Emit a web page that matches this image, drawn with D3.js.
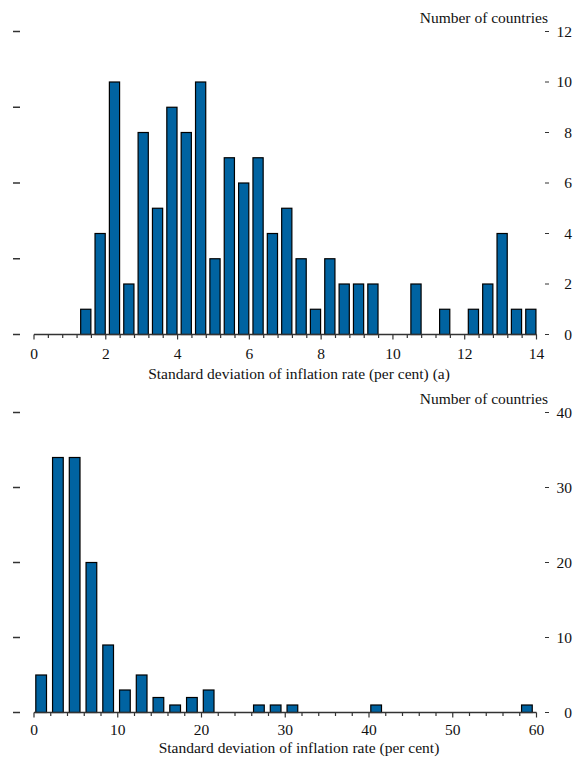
<!DOCTYPE html>
<html>
<head>
<meta charset="utf-8">
<script src="https://cdn.jsdelivr.net/npm/d3@7"></script>
<style>
  html, body { margin: 0; padding: 0; background: #fff; }
  svg { display: block; font-family: "Liberation Serif", "Times New Roman", serif; }
</style>
</head>
<body>
<svg id="chart" width="577" height="757"></svg>
<script>
// Panel (a): countries by standard deviation of inflation, 0.4-point bins from 0 to 14
const binsA = [0, 0.4, 0.8, 1.2, 1.6, 2.0, 2.4, 2.8, 3.2, 3.6, 4.0, 4.4, 4.8, 5.2, 5.6, 6.0, 6.4, 6.8,
               7.2, 7.6, 8.0, 8.4, 8.8, 9.2, 9.6, 10.0, 10.4, 10.8, 11.2, 11.6, 12.0, 12.4, 12.8, 13.2, 13.6];
const countsA = [0, 0, 0, 1, 4, 10, 2, 8, 5, 9, 8, 10, 3, 7, 6, 7, 4, 5,
                 3, 1, 3, 2, 2, 2, 0, 0, 2, 0, 1, 0, 1, 2, 4, 1, 1];
const binWidthA = 0.4;
const xTicksA = [0, 2, 4, 6, 8, 10, 12, 14];
const yTicksA = [0, 2, 4, 6, 8, 10, 12];
const leftTicksA = [0, 3, 6, 9, 12];
const xTitleA = "Standard deviation of inflation rate (per cent) (a)";

// Panel (b): all countries, 2-point bins from 0 to 60
const binsB = [0, 2, 4, 6, 8, 10, 12, 14, 16, 18, 20, 22, 24, 26, 28, 30, 32, 34, 36, 38,
               40, 42, 44, 46, 48, 50, 52, 54, 56, 58];
const countsB = [5, 34, 34, 20, 9, 3, 5, 2, 1, 2, 3, 0, 0, 1, 1, 1, 0, 0, 0, 0,
                 1, 0, 0, 0, 0, 0, 0, 0, 0, 1];
const binWidthB = 2;
const xTicksB = [0, 10, 20, 30, 40, 50, 60];
const yTicksB = [0, 10, 20, 30, 40];
const leftTicksB = [0, 10, 20, 30, 40];
const xTitleB = "Standard deviation of inflation rate (per cent)";

const yTitle = "Number of countries";
const barFill = "#0063a1";
const ink = "#111";
const fontSize = 15.5;

const svg = d3.select("#chart");

function panel(cfg) {
  const g = svg.append("g");
  const x = d3.scaleLinear().domain(cfg.xDomain).range([34, 536.5]);
  const y = d3.scaleLinear().domain(cfg.yDomain).range([cfg.y0, cfg.yTop]);

  // bars
  const data = cfg.bins.map((b, i) => ({ b, n: cfg.counts[i] })).filter(d => d.n > 0);
  g.append("g").selectAll("rect").data(data).join("rect")
    .attr("x", d => x(d.b) + cfg.barOffset)
    .attr("width", cfg.barWidth)
    .attr("y", d => y(d.n))
    .attr("height", d => y(0) - y(d.n))
    .attr("fill", barFill)
    .attr("stroke", "#000")
    .attr("stroke-width", 1.2);

  // baseline with minor and major ticks underneath
  const minor = d3.range(cfg.xDomain[0], cfg.xDomain[1] + cfg.binWidth / 2, cfg.binWidth);
  const axisG = g.append("g").attr("transform", `translate(0,${cfg.y0})`);
  axisG.append("line")
    .attr("x1", x(cfg.xDomain[0])).attr("x2", x(cfg.xDomain[1]))
    .attr("stroke", "#333").attr("stroke-width", 1.3);
  axisG.selectAll("line.tk").data(minor).join("line").attr("class", "tk")
    .attr("x1", d => x(d)).attr("x2", d => x(d))
    .attr("y1", 0)
    .attr("y2", d => cfg.xTicks.some(t => Math.abs(t - d) < 1e-6) ? 5 : 3.5)
    .attr("stroke", "#333").attr("stroke-width", 1.2);
  axisG.selectAll("text").data(cfg.xTicks).join("text")
    .attr("x", d => x(d)).attr("y", cfg.labelDy)
    .attr("text-anchor", "middle")
    .attr("font-size", fontSize).attr("fill", ink)
    .text(d => d);

  g.append("text")
    .attr("x", 299).attr("y", cfg.y0 + cfg.titleDy)
    .attr("text-anchor", "middle")
    .attr("font-size", fontSize).attr("fill", ink)
    .text(cfg.xTitle);

  // right-hand scale
  const rg = g.append("g");
  rg.selectAll("line").data(cfg.yTicks).join("line")
    .attr("x1", 545).attr("x2", 549)
    .attr("y1", d => y(d)).attr("y2", d => y(d))
    .attr("stroke", "#333").attr("stroke-width", 1);
  rg.selectAll("text").data(cfg.yTicks).join("text")
    .attr("x", 572).attr("y", d => y(d)).attr("dy", "0.35em")
    .attr("text-anchor", "end")
    .attr("font-size", fontSize).attr("fill", ink)
    .text(d => d);
  g.append("text")
    .attr("x", 548).attr("y", y(cfg.yDomain[1]) - 8.5)
    .attr("text-anchor", "end")
    .attr("font-size", fontSize).attr("fill", ink)
    .text(yTitle);

  // left-hand dash marks
  g.append("g").selectAll("line").data(cfg.leftTicks).join("line")
    .attr("x1", 13).attr("x2", 20)
    .attr("y1", d => y(d)).attr("y2", d => y(d))
    .attr("stroke", "#333").attr("stroke-width", 1.5);
}

panel({
  bins: binsA, counts: countsA, binWidth: binWidthA,
  xDomain: [0, 14], yDomain: [0, 12], y0: 334.5, yTop: 31.5,
  xTicks: xTicksA, yTicks: yTicksA, leftTicks: leftTicksA, xTitle: xTitleA,
  barOffset: 3.6, barWidth: 10.2, labelDy: 24, titleDy: 44.5
});

panel({
  bins: binsB, counts: countsB, binWidth: binWidthB,
  xDomain: [0, 60], yDomain: [0, 40], y0: 712.5, yTop: 412.5,
  xTicks: xTicksB, yTicks: yTicksB, leftTicks: leftTicksB, xTitle: xTitleB,
  barOffset: 1.8, barWidth: 10.7, labelDy: 22, titleDy: 40
});
</script>
</body>
</html>
